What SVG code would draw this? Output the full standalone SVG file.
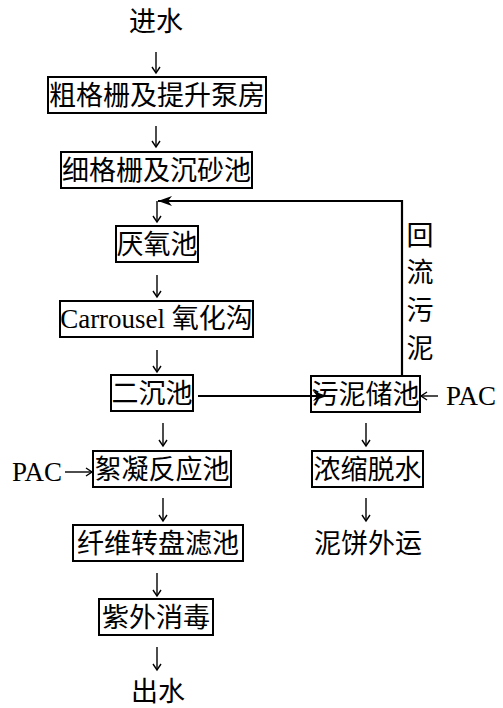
<svg xmlns="http://www.w3.org/2000/svg" width="503" height="708" viewBox="0 0 503 708">
<style>
.box{fill:#fff;stroke:#000;stroke-width:2}
.t{font-family:"Noto Sans CJK SC","Noto Sans",sans-serif;font-size:27px;fill:#000;text-anchor:middle}
.l{font-family:"Liberation Serif","Noto Sans CJK SC",serif;font-size:27px;fill:#000}
.thin{stroke:#000;stroke-width:1.4;fill:none}
.thick{stroke:#000;stroke-width:2.2;fill:none}
</style>
<defs>
<marker id="v" markerUnits="userSpaceOnUse" markerWidth="12" markerHeight="12" refX="7" refY="5" orient="auto">
<path d="M1,1 L7,5 L1,9" fill="none" stroke="#000" stroke-width="1.4"/>
</marker>
<marker id="s" markerUnits="userSpaceOnUse" markerWidth="16" markerHeight="12" refX="14" refY="6" orient="auto">
<path d="M0,1 L14,6 L0,11 L4,6 Z" fill="#000"/>
</marker>
</defs>
<g id="inlet"><text class="t" x="156" y="31">进水</text></g>
<g id="n1"><rect class="box" x="48" y="77" width="218" height="36"/><text class="t" x="157" y="105">粗格栅及提升泵房</text></g>
<g id="n2"><rect class="box" x="61" y="152" width="191" height="36"/><text class="t" x="156.5" y="180">细格栅及沉砂池</text></g>
<g id="n3"><rect class="box" x="116" y="226" width="82" height="36"/><text class="t" x="157" y="254">厌氧池</text></g>
<g id="n4"><rect class="box" x="60" y="301" width="193" height="36"/><text class="l" x="156.5" y="328" text-anchor="middle">Carrousel 氧化沟</text></g>
<g id="n5"><rect class="box" x="111" y="375" width="82" height="36"/><text class="t" x="152" y="403">二沉池</text></g>
<g id="n6"><rect class="box" x="93" y="451" width="138" height="36"/><text class="t" x="162" y="479">絮凝反应池</text></g>
<g id="n7"><rect class="box" x="73" y="525" width="170" height="36"/><text class="t" x="158" y="553">纤维转盘滤池</text></g>
<g id="n8"><rect class="box" x="99" y="599" width="114" height="36"/><text class="t" x="156" y="627">紫外消毒</text></g>
<g id="outlet"><text class="t" x="158" y="701">出水</text></g>
<g id="n9"><rect class="box" x="311" y="376" width="109" height="36"/><text class="t" x="365.5" y="404">污泥储池</text></g>
<g id="n10"><rect class="box" x="312" y="451" width="111" height="36"/><text class="t" x="367.5" y="479">浓缩脱水</text></g>
<g id="cake"><text class="t" x="368" y="553">泥饼外运</text></g>
<g id="pac1"><text class="l" x="12" y="481">PAC</text></g>
<g id="pac2"><text class="l" x="446" y="405">PAC</text></g>
<g id="return-label">
<text class="t" x="420" y="245">回</text>
<text class="t" x="420" y="282">流</text>
<text class="t" x="420" y="320">污</text>
<text class="t" x="420" y="358">泥</text>
</g>
<g id="connectors">
<path class="thin" d="M156,52 V73" marker-end="url(#v)"/>
<path class="thin" d="M156,126 V147" marker-end="url(#v)"/>
<path class="thin" d="M157,201 V222" marker-end="url(#v)"/>
<path class="thin" d="M157,275 V297" marker-end="url(#v)"/>
<path class="thin" d="M157,350 V372" marker-end="url(#v)"/>
<path class="thin" d="M163,423 V446" marker-end="url(#v)"/>
<path class="thin" d="M163,498 V521" marker-end="url(#v)"/>
<path class="thin" d="M157,573 V596" marker-end="url(#v)"/>
<path class="thin" d="M157,647 V670" marker-end="url(#v)"/>
<path class="thin" d="M366,423 V446" marker-end="url(#v)"/>
<path class="thin" d="M366,498 V521" marker-end="url(#v)"/>
<path class="thin" d="M65,472 H92" marker-end="url(#v)"/>
<path class="thin" d="M438,396 H421" marker-end="url(#v)"/>
<path class="thick" d="M402,376 V201 H158" marker-end="url(#s)"/>
<path class="thick" d="M198,396 H327" marker-end="url(#s)"/>
</g>
</svg>
